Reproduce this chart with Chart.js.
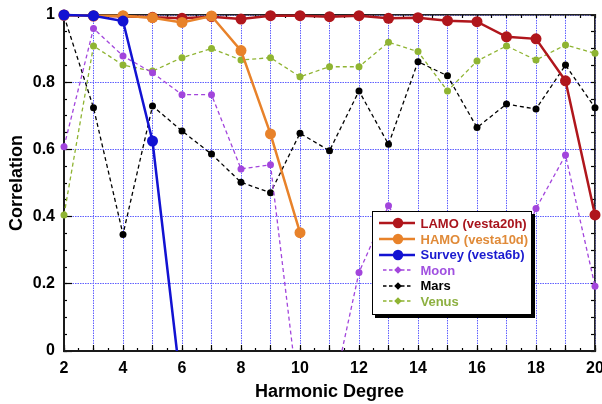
<!DOCTYPE html>
<html>
<head>
<meta charset="utf-8">
<script src="https://cdn.jsdelivr.net/npm/chart.js@4.4.1/dist/chart.umd.min.js"></script>
<style>
  html, body { margin: 0; padding: 0; background: #fff; }
  #wrap { position: relative; width: 602px; height: 404px; }
  #legend {
    position: absolute; left: 372px; top: 211px; width: 160px; height: 104px;
    box-sizing: border-box; background: #fff; border: 1.5px solid #000;
    box-shadow: 3px 3px 0 #000; padding: 3.7px 0 0 5.5px;
    font: bold 13px "Liberation Sans", Arial, sans-serif;
  }
  #legend .row { display: flex; align-items: center; height: 15.6px; white-space: nowrap; }
  #legend svg { flex: none; margin-right: 6px; }
</style>
</head>
<body>
<div id="wrap">
  <canvas id="chart" width="602" height="404"></canvas>
  <div id="legend"></div>
</div>
<script>
// Harmonic degrees on the x axis
const degrees = [2, 3, 4, 5, 6, 7, 8, 9, 10, 11, 12, 13, 14, 15, 16, 17, 18, 19, 20];

// Correlation per degree for each gravity solution / body
const lamo   = [1.0, 0.997, 0.996, 0.993, 0.99, 0.995, 0.988, 0.998, 0.998, 0.995, 0.998, 0.99, 0.992, 0.983, 0.98, 0.935, 0.929, 0.804, 0.405];
const hamo   = [0.999, 0.998, 0.998, 0.992, 0.978, 0.997, 0.894, 0.646, 0.352, null, null, null, null, null, null, null, null, null, null];
const survey = [1.0, 0.998, 0.982, 0.625, -0.13, null, null, null, null, null, null, null, null, null, null, null, null, null, null];
const moon   = [0.608, 0.96, 0.878, 0.828, 0.763, 0.763, 0.542, 0.554, -0.175, -0.17, 0.234, 0.432, 0.28, 0.16, 0.33, 0.21, 0.424, 0.583, 0.193];
const mars   = [0.997, 0.724, 0.347, 0.729, 0.655, 0.586, 0.502, 0.471, 0.648, 0.596, 0.774, 0.615, 0.861, 0.819, 0.665, 0.735, 0.72, 0.851, 0.724];
const venus  = [0.405, 0.908, 0.851, 0.833, 0.873, 0.9, 0.866, 0.873, 0.816, 0.846, 0.846, 0.919, 0.891, 0.774, 0.863, 0.908, 0.866, 0.911, 0.886];

const FONT = '"Liberation Sans", Arial, Helvetica, sans-serif';
const GRID_BLUE = 'rgb(96, 96, 255)';
const NONE = 'rgba(0,0,0,0)';

const series = [
  { label: 'LAMO (vesta20h)',  values: lamo,   color: '#b0161c', text: '#a8141c', dashed: false, order: 2 },
  { label: 'HAMO (vesta10d)',  values: hamo,   color: '#e8822a', text: '#e08a38', dashed: false, order: 1 },
  { label: 'Survey (vesta6b)', values: survey, color: '#1212d2', text: '#1a1ad0', dashed: false, order: 0 },
  { label: 'Moon',             values: moon,   color: '#a245dc', text: '#a050e0', dashed: true,  order: 3 },
  { label: 'Mars',             values: mars,   color: '#000000', text: '#000000', dashed: true,  order: 4 },
  { label: 'Venus',            values: venus,  color: '#8fb432', text: '#8db040', dashed: true,  order: 5 }
];

function onStep(v, step) {
  const r = v / step;
  return Math.abs(r - Math.round(r)) < 1e-6;
}

const datasets = series.map(s => ({
  label: s.label,
  data: degrees.map((d, i) => ({ x: d, y: s.values[i] })),
  borderColor: s.color,
  backgroundColor: s.color,
  pointBackgroundColor: s.color,
  pointBorderWidth: 0,
  pointRadius: s.dashed ? 3.5 : 5.5,
  borderWidth: s.dashed ? 1.3 : 2.5,
  borderDash: s.dashed ? [4, 3] : [],
  tension: 0,
  spanGaps: false,
  order: s.order,
  clip: { left: 8, right: 8, top: 8, bottom: 0 }
}));

const tickFont = { family: FONT, size: 16, weight: 'bold' };
const titleFont = { family: FONT, size: 18, weight: 'bold' };

// zero-size helper axes that only add inner tick marks
function tickOnlyAxis(position, min, max, step, len, border, weight) {
  const horizontal = position === 'top' || position === 'bottom';
  return {
    type: 'linear', position, min, max, weight,
    ticks: { display: false, stepSize: step, autoSkip: false },
    grid: { drawOnChartArea: false, drawTicks: true, tickLength: -len, tickColor: '#000', tickWidth: 1.2 },
    border: border ? { display: true, color: '#222', width: 1.6 } : { display: false },
    afterFit: s => {
      if (horizontal) { s.height = 0; s.paddingLeft = 0; s.paddingRight = 0; }
      else { s.width = 0; s.paddingTop = 0; s.paddingBottom = 0; }
    }
  };
}

new Chart(document.getElementById('chart'), {
  type: 'line',
  data: { datasets },
  options: {
    responsive: false,
    animation: false,
    devicePixelRatio: 1,
    layout: { padding: { left: 0, top: 15, right: 7, bottom: 0 } },
    plugins: { legend: { display: false }, tooltip: { enabled: false } },
    scales: {
      x: {
        type: 'linear', position: 'bottom', min: 2, max: 20, weight: 0,
        ticks: {
          stepSize: 0.5, autoSkip: false, maxRotation: 0, padding: 11,
          color: '#000', font: tickFont,
          callback: v => onStep(v, 2) ? String(Math.round(v)) : ''
        },
        grid: {
          color: ctx => onStep(ctx.tick.value, 1) ? GRID_BLUE : NONE,
          lineWidth: 1, drawTicks: true, tickLength: -3, tickColor: '#000', tickWidth: 1.2
        },
        border: { display: true, color: '#1a1a1a', width: 2, dash: [1.5, 1] },
        title: { display: true, text: 'Harmonic Degree', color: '#000', font: titleFont, padding: { top: 0, bottom: 1 } },
        afterFit: s => { s.height = 53; s.paddingLeft = 0; s.paddingRight = 0; }
      },
      y: {
        type: 'linear', position: 'left', min: 0, max: 1, weight: 0,
        ticks: {
          stepSize: 0.05, autoSkip: false, padding: 12,
          color: '#000', font: tickFont,
          callback: v => onStep(v, 0.2) ? String(Math.round(v * 10) / 10) : ''
        },
        grid: {
          color: ctx => onStep(ctx.tick.value, 0.2) ? GRID_BLUE : NONE,
          lineWidth: 1, drawTicks: true, tickLength: -3, tickColor: '#000', tickWidth: 1.2
        },
        border: { display: true, color: '#1a1a1a', width: 2, dash: [1.5, 1] },
        title: { display: true, text: 'Correlation', color: '#000', font: titleFont, padding: { top: 6, bottom: 0 } },
        afterFit: s => { s.width = 64; s.paddingTop = 0; s.paddingBottom = 0; }
      },
      xMajor: tickOnlyAxis('bottom', 2, 20, 1, 6, false, -1),
      yMajor: tickOnlyAxis('left', 0, 1, 0.2, 8, false, -1),
      xTop: tickOnlyAxis('top', 2, 20, 0.5, 3, true, 0),
      yRight: tickOnlyAxis('right', 0, 1, 0.05, 4, true, 0)
    }
  }
});

// Legend box with line/marker samples
const legend = document.getElementById('legend');
const SVGNS = 'http://www.w3.org/2000/svg';
series.forEach(s => {
  const row = document.createElement('div');
  row.className = 'row';
  const svg = document.createElementNS(SVGNS, 'svg');
  svg.setAttribute('width', '36');
  svg.setAttribute('height', '14');
  const line = document.createElementNS(SVGNS, 'line');
  line.setAttribute('y1', '7'); line.setAttribute('y2', '7');
  line.setAttribute('stroke', s.color);
  if (s.dashed) {
    line.setAttribute('x1', '4'); line.setAttribute('x2', '34');
    line.setAttribute('stroke-width', '1.3');
    line.setAttribute('stroke-dasharray', '3.5 2.5');
  } else {
    line.setAttribute('x1', '0'); line.setAttribute('x2', '36');
    line.setAttribute('stroke-width', '2.5');
  }
  svg.appendChild(line);
  let marker;
  if (s.dashed) {
    marker = document.createElementNS(SVGNS, 'polygon');
    marker.setAttribute('points', '19,3.2 22.8,7 19,10.8 15.2,7');
  } else {
    marker = document.createElementNS(SVGNS, 'circle');
    marker.setAttribute('cx', '19'); marker.setAttribute('cy', '7'); marker.setAttribute('r', '5.2');
  }
  marker.setAttribute('fill', s.color);
  svg.appendChild(marker);
  const label = document.createElement('span');
  label.textContent = s.label;
  label.style.color = s.text;
  row.appendChild(svg);
  row.appendChild(label);
  legend.appendChild(row);
});
</script>
</body>
</html>
